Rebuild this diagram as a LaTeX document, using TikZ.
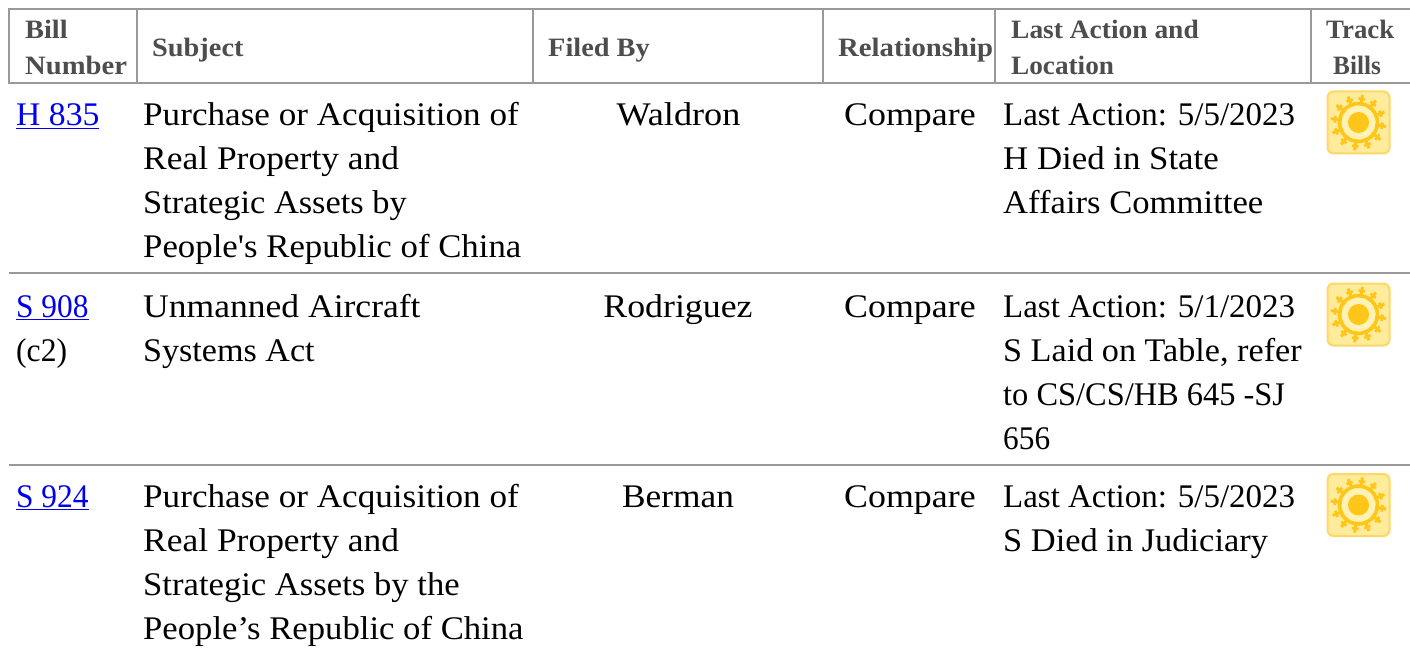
\documentclass[tikz,border=0pt]{standalone}
\usepackage{graphicx}
\usepackage{fontspec}
\setmainfont[FakeStretch=1.07]{Liberation Serif}
\newfontfamily\plainquote[FakeStretch=1.07]{Liberation Serif}
\definecolor{rulegray}{HTML}{999999}
\definecolor{headgray}{HTML}{4D4D4D}
\definecolor{linkblue}{HTML}{0000EE}
\definecolor{sunbg}{HTML}{FFEB9C}
\definecolor{sunedge}{HTML}{FFD766}
\definecolor{sunray}{HTML}{FFC61A}
\definecolor{sunpale}{HTML}{FFF2B3}
\newcommand{\sx}[2]{\scalebox{#1}[1]{#2}}
\tikzset{
  x=1pt,y=-1pt,
  gridline/.style={draw=rulegray,line width=2pt},
  rowline/.style={draw=rulegray,line width=1.6pt},
  head/.style={anchor=base west,inner sep=0pt,text=headgray,font=\fontsize{26.5}{30}\selectfont\bfseries},
  body/.style={anchor=base west,inner sep=0pt,text=black,font=\fontsize{33}{44}\selectfont},
  bodyc/.style={body,anchor=base},
  billlink/.style={body,text=linkblue},
  iconbox/.style={draw=sunedge,fill=sunbg,line width=2pt,rounded corners=6pt}
}
\newcommand{\sunicon}[2]{%
  \begin{scope}[shift={(#1,#2)}]
    \draw[iconbox] (-31,-31) rectangle (31,31);
    \foreach \a in {0,30,...,330}{
      \draw[sunray,line width=3pt] (\a+8:17) -- (\a+8:28);
      \draw[sunray,line width=2.6pt] (\a+8-8:24) -- (\a+8+8:24);
    }
    \draw[sunray,line width=3.5pt] (0,0) circle (19);
    \fill[sunpale] (0,0) circle (16.5);
    \fill[sunray] (0,0) circle (10.5);
  \end{scope}}
\begin{document}
\begin{tikzpicture}
\useasboundingbox (0,0) rectangle (1410,652);
\fill[white] (0,0) rectangle (1410,652);
% header grid
\draw[gridline] (1410,9.5) -- (9,9.5) -- (9,83) -- (1410,83);
\foreach \x in {137,533,823,995,1311}{\draw[gridline] (\x,9.5) -- (\x,83);}
\draw[rowline] (9,273) -- (1410,273);
\draw[rowline] (9,465) -- (1410,465);
% header text
\node[head] (h1a) at (25,39) {Bill};
\node[head] (h1b) at (25,75) {\sx{1.01}{Number}};
\node[head] (h2) at (152,57) {Subject};
\node[head] (h3) at (548,57) {Filed By};
\node[head] (h4) at (838,57) {\sx{1.013}{Relationship}};
\node[head] (h5a) at (1011,39) {\sx{.968}{Last Action and}};
\node[head] (h5b) at (1011,75) {\sx{.96}{Location}};
\node[head] (h6a) at (1326,39) {\sx{.945}{Track}};
\node[head] (h6b) at (1333,75) {\sx{.89}{Bills}};
% row 1
\node[billlink] (a1) at (16,126) {\sx{.954}{\underline{H 835}}};
\node[body] (a2) at (143,126) {\sx{.995}{Purchase or Acquisition of}};
\node[body] (a3) at (143,170) {\sx{1.004}{Real Property and}};
\node[body] (a4) at (143,214) {\sx{.974}{Strategic Assets by}};
\node[body] (a5) at (143,258) {\sx{.985}{People{\plainquote '}s Republic of China}};
\node[bodyc] (a6) at (678.5,126) {\sx{1.025}{Waldron}};
\node[body] (a7) at (844,126) {\sx{1.016}{Compare}};
\node[body] (a8) at (1003,126) {\sx{.933}{Last Action: 5/5/2023}};
\node[body] (a9) at (1003,170) {\sx{.986}{H Died in State}};
\node[body] (a10) at (1003,214) {\sx{.981}{Affairs Committee}};
\sunicon{1358.5}{122.5}
% row 2
\node[billlink] (b1) at (16,317) {\sx{.889}{\underline{S 908}}};
\node[body] (b1b) at (16,361) {\sx{.895}{(c2)}};
\node[body] (b2) at (143,317) {\sx{1.007}{Unmanned Aircraft}};
\node[body] (b3) at (143,361) {\sx{.966}{Systems Act}};
\node[bodyc] (b6) at (678,317) {\sx{1.014}{Rodriguez}};
\node[body] (b7) at (844,317) {\sx{1.016}{Compare}};
\node[body] (b8) at (1003,317) {\sx{.933}{Last Action: 5/1/2023}};
\node[body] (b9) at (1003,361) {\sx{.968}{S Laid on Table, refer}};
\node[body] (b10) at (1003,405) {\sx{.918}{to CS/CS/HB 645 -SJ}};
\node[body] (b11) at (1003,449) {\sx{.887}{656}};
\sunicon{1358.5}{314.5}
% row 3
\node[billlink] (c1) at (16,507) {\sx{.889}{\underline{S 924}}};
\node[body] (c2) at (143,507) {\sx{.995}{Purchase or Acquisition of}};
\node[body] (c3) at (143,551) {\sx{1.004}{Real Property and}};
\node[body] (c4) at (143,595) {\sx{.981}{Strategic Assets by the}};
\node[body] (c5) at (143,639) {\sx{.982}{People’s Republic of China}};
\node[bodyc] (c6) at (678,507) {Berman};
\node[body] (c7) at (844,507) {\sx{1.016}{Compare}};
\node[body] (c8) at (1003,507) {\sx{.933}{Last Action: 5/5/2023}};
\node[body] (c9) at (1003,551) {\sx{.975}{S Died in Judiciary}};
\sunicon{1358.5}{505}
\end{tikzpicture}
\end{document}
